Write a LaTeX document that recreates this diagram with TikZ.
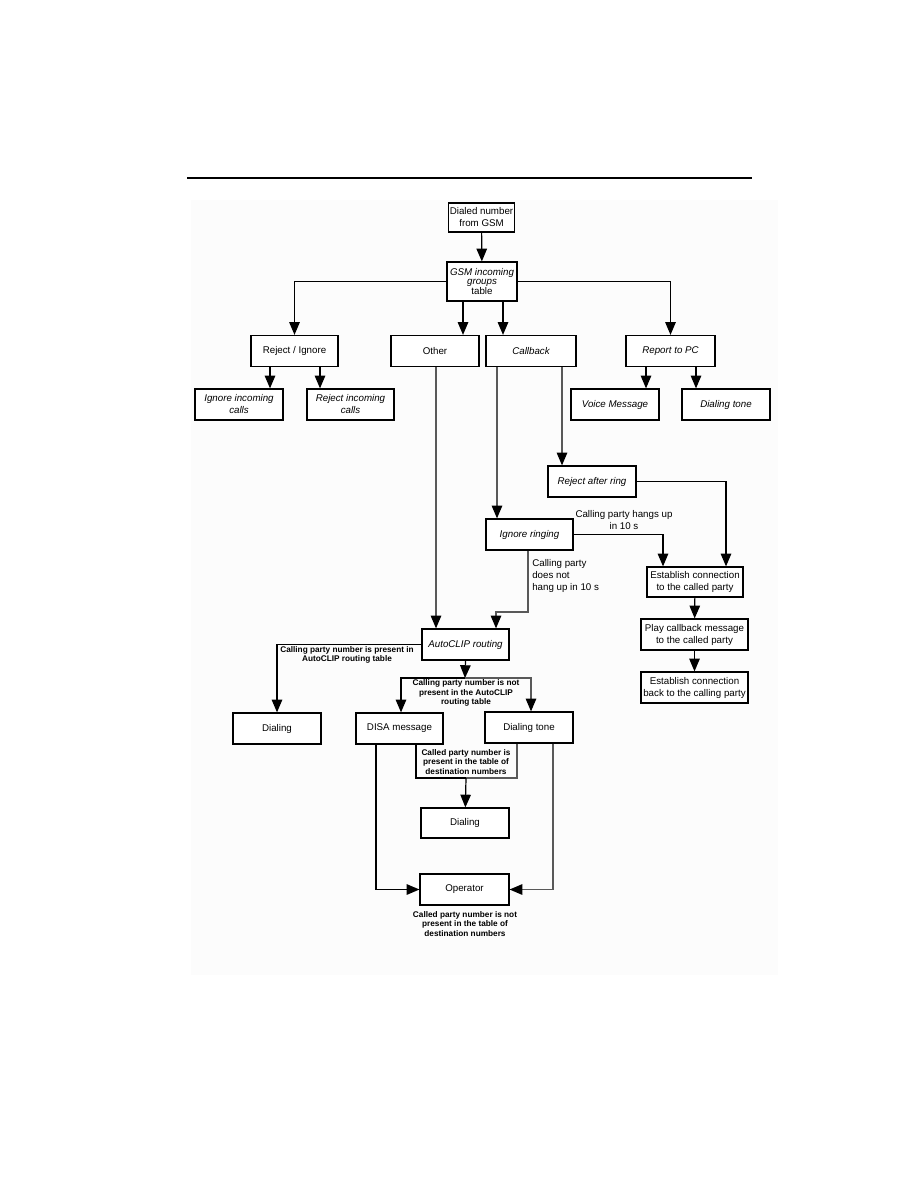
\documentclass[tikz,border=0pt]{standalone}
\usepackage{fontspec}
\setmainfont{Liberation Sans}
\usetikzlibrary{arrows.meta}

\newcommand{\boxfont}{\fontsize{6.5}{8}\selectfont}
\newcommand{\notefont}{\fontsize{5.5}{6.5}\selectfont\bfseries}
\newcommand{\labelfont}{\fontsize{6.5}{7.6}\selectfont}

\tikzset{
  box/.style={draw, line width=0.8pt, fill=white, align=center, font=\boxfont,
    inner sep=1pt, minimum width=58.7pt, minimum height=20.7pt},
  note/.style={align=center, font=\notefont, inner sep=0pt},
  flow/.style={-{Triangle[width=7pt,length=8.5pt,color=black]}, line width=0.8pt},
  faint/.style={draw=black!65},
}

\begin{document}
\begin{tikzpicture}[x=0.6667pt, y=-0.6667pt]
  \useasboundingbox (0,0) rectangle (918,1188);
  \fill[black!1] (191,200) rectangle (778,975);
  \draw[line width=0.7pt] (187,178) -- (752,178);

  % top of the tree
  \node[box, minimum width=42pt, minimum height=19.3pt] (dialed) at (481.5,217.5) {Dialed number\\from GSM};
  \node[box, minimum width=46.7pt, minimum height=26pt] (gsm) at (482,281.5)
        {\itshape GSM incoming\\[-2pt]\itshape groups\\[-1pt] table};

  \node[box, minimum width=58pt] (rejign) at (294.5,351) {Reject / Ignore};
  \node[box] (other) at (435,351) {Other};
  \node[box, minimum width=60pt] (callback) at (531,351) {\itshape Callback};
  \node[box, minimum width=59.3pt] (report) at (670.5,351) {\itshape Report to PC};

  \node[box] (ignin) at (239,404.5) {\itshape Ignore incoming\\\itshape calls};
  \node[box, minimum width=58pt] (rejin) at (350.5,404.5) {\itshape Reject incoming\\\itshape calls};
  \node[box] (voice) at (615,404.5) {\itshape Voice Message};
  \node[box] (dtonea) at (726,404.5) {\itshape Dialing tone};

  % callback branch
  \node[box] (rejring) at (592,481.5) {\itshape Reject after ring};
  \node[box, minimum width=58pt] (ignring) at (529.5,534.5) {\itshape Ignore ringing};
  \node[box, minimum width=64pt, minimum height=20pt] (estab) at (695,582) {Establish connection\\to the called party};
  \node[box, minimum width=71.3pt] (play) at (694.5,634.5) {Play callback message\\to the called party};
  \node[box, minimum width=71.3pt] (estback) at (694.5,687.5) {Establish connection\\back to the calling party};

  % AutoCLIP part
  \node[box, minimum width=58pt] (autoclip) at (465.5,644.5) {\itshape AutoCLIP routing};
  \node[box] (diala) at (277,728.5) {Dialing};
  \node[box, minimum width=58pt] (disa) at (399.5,728.5) {DISA message};
  \node[box] (dtoneb) at (529,727.5) {Dialing tone};
  \node[box, minimum height=20pt] (dialb) at (465,823) {Dialing};
  \node[box, minimum width=59.3pt] (oper) at (464.5,889.5) {Operator};

  \coordinate (split) at (465,678);
  \coordinate (merge) at (466,778);

  % connectors
  \draw[flow] (dialed) -- (gsm);
  \draw[flow] (gsm.west) -| (rejign.north);
  \draw[flow] (gsm.east) -| (report.north);
  \draw[flow] (463,0 |- gsm.south) -- (463,0 |- other.north);
  \draw[flow] (503,0 |- gsm.south) -- (503,0 |- callback.north);
  \draw[flow] (270,0 |- rejign.south) -- (270,0 |- ignin.north);
  \draw[flow] (320,0 |- rejign.south) -- (320,0 |- rejin.north);
  \draw[flow] (646,0 |- report.south) -- (646,0 |- voice.north);
  \draw[flow] (696,0 |- report.south) -- (696,0 |- dtonea.north);

  \draw[flow, faint] (497,0 |- callback.south) -- (497,0 |- ignring.north);
  \draw[flow, faint] (562,0 |- callback.south) -- (562,0 |- rejring.north);
  \draw[flow] (rejring.east) -| (726,0 |- estab.north);
  \draw[flow] (ignring.east) -| (663,0 |- estab.north);
  \node[font=\labelfont, align=center, inner sep=0pt] (hangs) at (624,520) {Calling party hangs up\\in 10 s};
  \draw[flow, faint] (528,0 |- ignring.south) -- (528,612) -| (496,0 |- autoclip.north);
  \node[font=\boxfont, align=left, anchor=west, inner sep=0pt] (nohang) at (532,576)
        {Calling party\\does not\\hang up in 10 s};
  \draw[flow, faint] (436,0 |- other.south) -- (436,0 |- autoclip.north);
  \draw[flow] (estab) -- (play);
  \draw[flow] (play) -- (estback);

  \draw[flow] (autoclip.west) -| (diala.north);
  \node[note] (present) at (347,655) {Calling party number is present in\\AutoCLIP routing table};
  \draw[flow] (autoclip.south) -- (split);
  \draw[flow] (split) -| (401,0 |- disa.north);
  \draw[flow, faint] (split) -| (531,0 |- dtoneb.north);
  \node[note] (notpresent) at (466,693) {Calling party number is not\\present in the AutoCLIP\\routing table};

  \draw[line width=0.8pt] (416,0 |- disa.south) |- (merge);
  \draw[line width=0.8pt, faint] (517,0 |- dtoneb.south) |- (merge);
  \draw[flow] (merge) -- (dialb);
  \node[note] (destin) at (466,762) {Called party number is\\present in the table of\\destination numbers};
  \draw[flow] (376,0 |- disa.south) |- (oper.west);
  \draw[flow, faint] (553,0 |- dtoneb.south) |- (oper.east);
  \node[note] (opernote) at (465,924) {Called party number is not\\present in the table of\\destination numbers};
\end{tikzpicture}
\end{document}
